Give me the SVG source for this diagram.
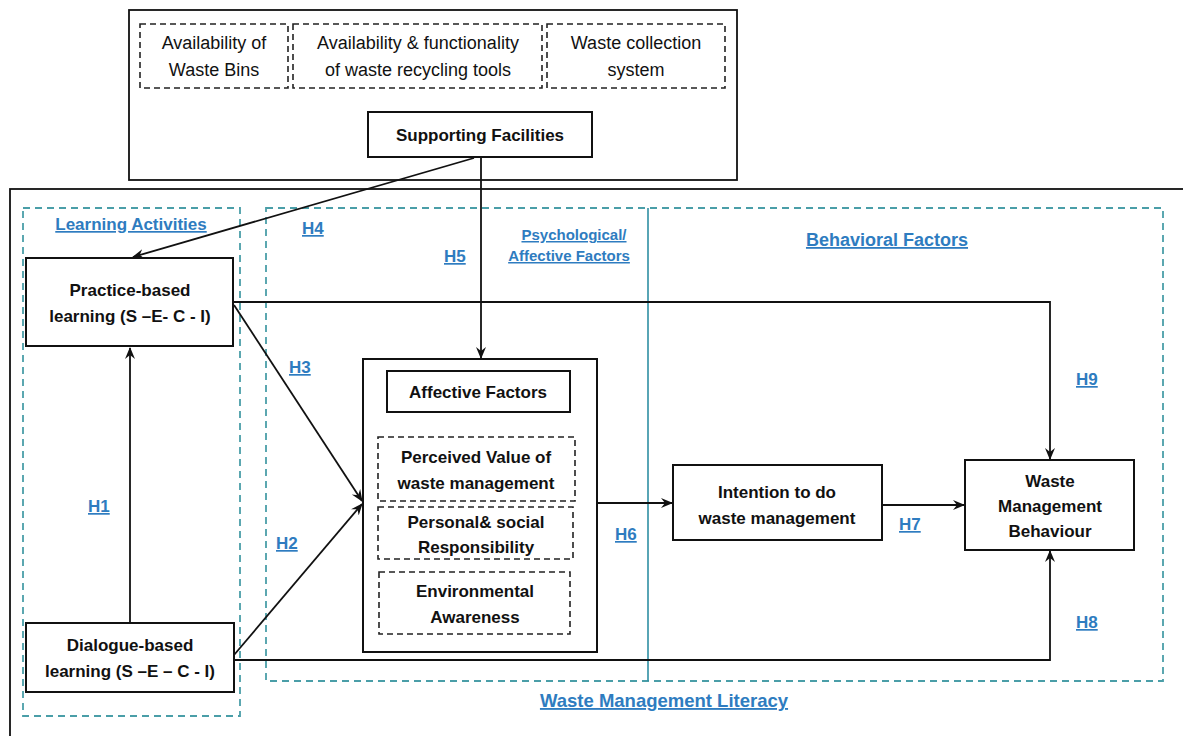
<svg xmlns="http://www.w3.org/2000/svg" width="1183" height="736" viewBox="0 0 1183 736">
<defs>
<marker id="arr" markerWidth="12" markerHeight="12" refX="11" refY="6" orient="auto" markerUnits="userSpaceOnUse">
<path d="M0,1 L12,6 L0,11 L4,6 z" fill="#111"/>
</marker>
<style>
.box{fill:#fff;stroke:#111;stroke-width:2}
.frame{fill:none;stroke:#111;stroke-width:1.8}
.dash{fill:none;stroke:#222;stroke-width:1.6;stroke-dasharray:6 4}
.tdash{fill:none;stroke:#4a9ea8;stroke-width:1.8;stroke-dasharray:7 5}
.conn{fill:none;stroke:#111;stroke-width:1.8}
.reg{font-family:"Liberation Sans",Arial,sans-serif;font-size:18px;fill:#111;text-anchor:middle}
.bold{font-family:"Liberation Sans",Arial,sans-serif;font-size:17px;font-weight:bold;fill:#111;text-anchor:middle}
.lab{font-family:"Liberation Sans",Arial,sans-serif;font-size:17px;font-weight:bold;fill:#2e7cc0;text-decoration:underline}
</style>
</defs>

<!-- frames -->
<rect class="frame" x="129" y="10" width="608" height="170"/>
<rect class="frame" x="10" y="189" width="1190" height="570"/>
<rect class="tdash" x="23" y="208" width="217" height="508"/>
<rect class="tdash" x="266" y="208" width="897" height="473"/>
<line x1="648" y1="208" x2="648" y2="681" stroke="#2f8fa3" stroke-width="1.6"/>

<!-- group labels -->
<text class="lab" x="131" y="230" text-anchor="middle">Learning Activities</text>
<text class="lab" x="574" y="240" text-anchor="middle" style="font-size:15px">Psychological/</text>
<text class="lab" x="569" y="261" text-anchor="middle" style="font-size:15px">Affective Factors</text>
<text class="lab" x="887" y="246" text-anchor="middle" style="font-size:18px">Behavioral Factors</text>
<text class="lab" x="664" y="707" text-anchor="middle" style="font-size:18.5px">Waste Management Literacy</text>

<!-- connectors -->
<g id="connectors">
<line class="conn" x1="474" y1="158" x2="133" y2="257" marker-end="url(#arr)"/>
<line class="conn" x1="481" y1="158" x2="481" y2="358" marker-end="url(#arr)"/>
<line class="conn" x1="130" y1="623" x2="130" y2="348" marker-end="url(#arr)"/>
<line class="conn" x1="234" y1="305" x2="362" y2="501" marker-end="url(#arr)"/>
<line class="conn" x1="234" y1="655" x2="362" y2="504" marker-end="url(#arr)"/>
<polyline class="conn" points="234,302 1050,302 1050,459" marker-end="url(#arr)"/>
<polyline class="conn" points="234,660 1050,660 1050,551" marker-end="url(#arr)"/>
<line class="conn" x1="597" y1="503" x2="672" y2="503" marker-end="url(#arr)"/>
<line class="conn" x1="882" y1="505" x2="964" y2="505" marker-end="url(#arr)"/>
<text class="lab" x="302" y="234">H4</text>
<text class="lab" x="444" y="262">H5</text>
<text class="lab" x="289" y="373">H3</text>
<text class="lab" x="88" y="512">H1</text>
<text class="lab" x="276" y="549">H2</text>
<text class="lab" x="615" y="540">H6</text>
<text class="lab" x="899" y="530">H7</text>
<text class="lab" x="1076" y="385">H9</text>
<text class="lab" x="1076" y="628">H8</text>
</g>

<!-- nodes -->
<g id="bins">
<rect class="dash" x="140" y="24" width="148" height="64"/>
<text class="reg" x="214" y="49">Availability of</text>
<text class="reg" x="214" y="76">Waste Bins</text>
</g>
<g id="recycling">
<rect class="dash" x="293" y="24" width="249" height="64"/>
<text class="reg" x="418" y="49">Availability &amp; functionality</text>
<text class="reg" x="418" y="76">of waste recycling tools</text>
</g>
<g id="collection">
<rect class="dash" x="547" y="24" width="178" height="64"/>
<text class="reg" x="636" y="49">Waste collection</text>
<text class="reg" x="636" y="76">system</text>
</g>
<g id="supporting">
<rect class="box" x="368" y="112" width="224" height="45"/>
<text class="bold" x="480" y="141">Supporting Facilities</text>
</g>
<g id="practice">
<rect class="box" x="26" y="258" width="207" height="88"/>
<text class="bold" x="130" y="296">Practice-based</text>
<text class="bold" x="130" y="322">learning (S –E- C - I)</text>
</g>
<g id="dialogue">
<rect class="box" x="26" y="623" width="208" height="69"/>
<text class="bold" x="130" y="651">Dialogue-based</text>
<text class="bold" x="130" y="677">learning (S –E – C - I)</text>
</g>
<g id="affective">
<rect class="box" x="363" y="359" width="234" height="293"/>
<rect class="box" x="387" y="371" width="183" height="41"/>
<text class="bold" x="478" y="398">Affective Factors</text>
</g>
<g id="perceived">
<rect class="dash" x="378" y="437" width="197" height="64"/>
<text class="bold" x="476" y="463">Perceived Value of</text>
<text class="bold" x="476" y="489">waste management</text>
</g>
<g id="responsibility">
<rect class="dash" x="378" y="507" width="195" height="52"/>
<text class="bold" x="476" y="528">Personal&amp; social</text>
<text class="bold" x="476" y="553">Responsibility</text>
</g>
<g id="awareness">
<rect class="dash" x="379" y="572" width="191" height="62"/>
<text class="bold" x="475" y="597">Environmental</text>
<text class="bold" x="475" y="623">Awareness</text>
</g>
<g id="intention">
<rect class="box" x="673" y="465" width="209" height="75"/>
<text class="bold" x="777" y="498">Intention to do</text>
<text class="bold" x="777" y="524">waste management</text>
</g>
<g id="behaviour">
<rect class="box" x="965" y="460" width="169" height="90"/>
<text class="bold" x="1050" y="487">Waste</text>
<text class="bold" x="1050" y="512">Management</text>
<text class="bold" x="1050" y="537">Behaviour</text>
</g>
</svg>
